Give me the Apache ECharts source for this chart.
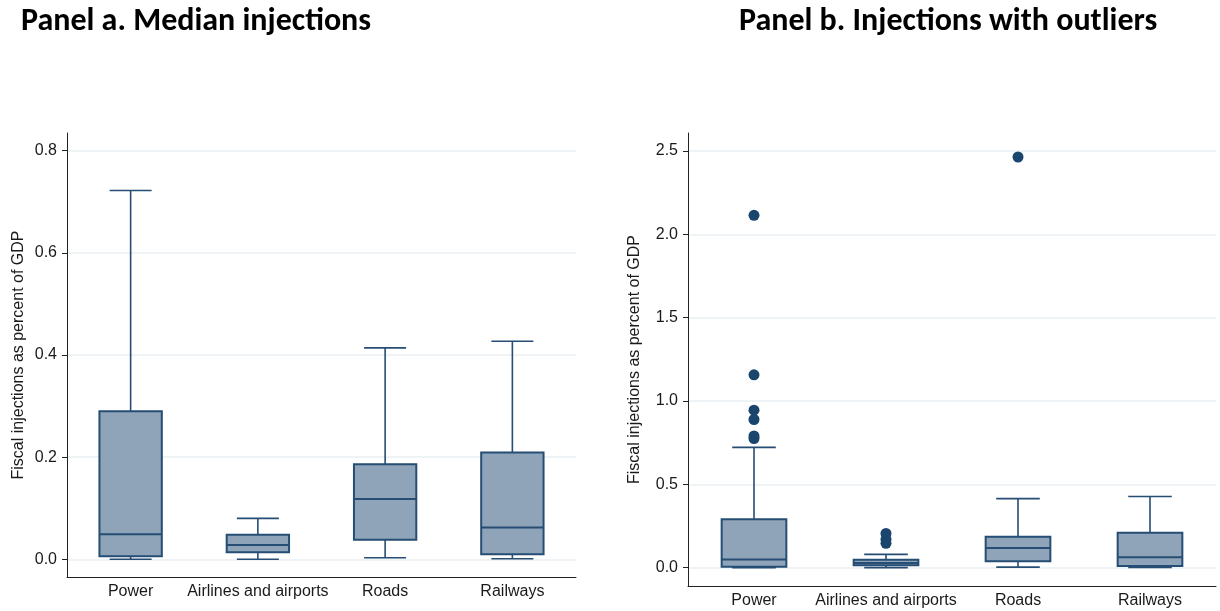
<!DOCTYPE html>
<html><head><meta charset="utf-8">
<script src="https://cdn.jsdelivr.net/npm/echarts@6/dist/echarts.min.js"></script>
<style>html,body{margin:0;padding:0;background:#fff}#c{width:1220px;height:611px}</style>
</head><body><div id="c"></div>
<script>
const categories = ['Power', 'Airlines and airports', 'Roads', 'Railways'];
// [lower whisker, Q1, median, Q3, upper whisker]
const powerStats    = [0.000, 0.006, 0.049, 0.290, 0.722];
const airlinesStats = [0.000, 0.014, 0.028, 0.048, 0.080];
const roadsStats    = [0.003, 0.038, 0.118, 0.186, 0.414];
const railwaysStats = [0.001, 0.010, 0.062, 0.209, 0.427];
const outlierCategory = ['Power', 'Power', 'Power', 'Power', 'Power', 'Power',
  'Airlines and airports', 'Airlines and airports', 'Airlines and airports', 'Roads'];
const outlierValues = [2.114, 1.157, 0.945, 0.889, 0.790, 0.775, 0.205, 0.170, 0.146, 2.464];
const titles = ['Panel a. Median injections', 'Panel b. Injections with outliers'];
const yAxisName = 'Fiscal injections as percent of GDP';
const yTicksA = [0, 0.2, 0.4, 0.6, 0.8];
const yTicksB = [0, 0.5, 1.0, 1.5, 2.0, 2.5];

const boxStats = [powerStats, airlinesStats, roadsStats, railwaysStats];
const FILL = '#8fa4b8', STROKE = '#264d73', DOT = '#1a466e';

function renderBox(params, api) {
  const ci = api.value(0);
  const lo = api.coord([ci, api.value(1)]);
  const q1 = api.coord([ci, api.value(2)]);
  const md = api.coord([ci, api.value(3)]);
  const q3 = api.coord([ci, api.value(4)]);
  const hi = api.coord([ci, api.value(5)]);
  const band = api.size([1, 0])[0];
  const bw = band * 0.49, cw = band * 0.33;
  const x = lo[0];
  const ls = {stroke: STROKE, lineWidth: 1.6};
  return {type: 'group', children: [
    {type: 'line', shape: {x1: x, y1: q3[1], x2: x, y2: hi[1]}, style: ls},
    {type: 'line', shape: {x1: x, y1: lo[1], x2: x, y2: q1[1]}, style: ls},
    {type: 'line', shape: {x1: x - cw / 2, y1: hi[1], x2: x + cw / 2, y2: hi[1]}, style: ls},
    {type: 'line', shape: {x1: x - cw / 2, y1: lo[1], x2: x + cw / 2, y2: lo[1]}, style: ls},
    {type: 'rect', shape: {x: x - bw / 2, y: q3[1], width: bw, height: q1[1] - q3[1]},
      style: {fill: FILL, stroke: STROKE, lineWidth: 2}},
    {type: 'line', shape: {x1: x - bw / 2, y1: md[1], x2: x + bw / 2, y2: md[1]},
      style: {stroke: STROKE, lineWidth: 2}}
  ]};
}

function xAxisCfg(gi) {
  return {
    type: 'category', gridIndex: gi, data: categories,
    axisLine: {onZero: false, lineStyle: {color: '#222', width: 1}},
    axisTick: {show: false},
    axisLabel: {color: '#1a1a1a', fontSize: 16, fontFamily: 'Liberation Sans, Arial, sans-serif', margin: 7, interval: 0}
  };
}
function yAxisCfg(gi, min, max, ticks, gap) {
  return {
    type: 'value', gridIndex: gi, min: min, max: max,
    name: yAxisName, nameLocation: 'middle', nameGap: gap,
    nameTextStyle: {color: '#1a1a1a', fontSize: 16, fontFamily: 'Liberation Sans, Arial, sans-serif'},
    axisLine: {show: true, onZero: false, lineStyle: {color: '#222', width: 1}},
    axisTick: {show: true, length: 5, lineStyle: {color: '#222'}, customValues: ticks},
    axisLabel: {color: '#1a1a1a', fontSize: 16, fontFamily: 'Liberation Sans, Arial, sans-serif', margin: 10,
      customValues: ticks, formatter: v => Number(v).toFixed(1)},
    splitLine: {show: true, lineStyle: {color: '#e9eff2', width: 1.5}}
  };
}

const TITLE_STYLE = {fontFamily: 'Carlito, Calibri, "Noto Sans", sans-serif', fontWeight: 'bold', fontSize: 32, color: '#000'};
const chart = echarts.init(document.getElementById('c'), null, {renderer: 'canvas'});
chart.setOption({
  animation: false,
  backgroundColor: '#fff',
  title: [
    {text: titles[0], left: 21, top: 6, padding: 0, textStyle: TITLE_STYLE},
    {text: titles[1], left: 739, top: 6, padding: 0, textStyle: TITLE_STYLE}
  ],
  grid: [
    {left: 67, top: 133, width: 509, height: 444},
    {left: 688, top: 133, width: 528, height: 453}
  ],
  xAxis: [xAxisCfg(0), xAxisCfg(1)],
  yAxis: [yAxisCfg(0, -0.0347, 0.8347, yTicksA, 40), yAxisCfg(1, -0.11, 2.608, yTicksB, 45)],
  series: [
    {type: 'custom', xAxisIndex: 0, yAxisIndex: 0, renderItem: renderBox,
      data: boxStats.map((s, i) => [i].concat(s)), encode: {x: 0, y: [1, 2, 3, 4, 5]}},
    {type: 'custom', xAxisIndex: 1, yAxisIndex: 1, renderItem: renderBox,
      data: boxStats.map((s, i) => [i].concat(s)), encode: {x: 0, y: [1, 2, 3, 4, 5]}},
    {type: 'scatter', xAxisIndex: 1, yAxisIndex: 1, symbolSize: 11, z: 5,
      itemStyle: {color: DOT, opacity: 1},
      data: outlierCategory.map((c, i) => [c, outlierValues[i]])}
  ]
});
</script></body></html>
